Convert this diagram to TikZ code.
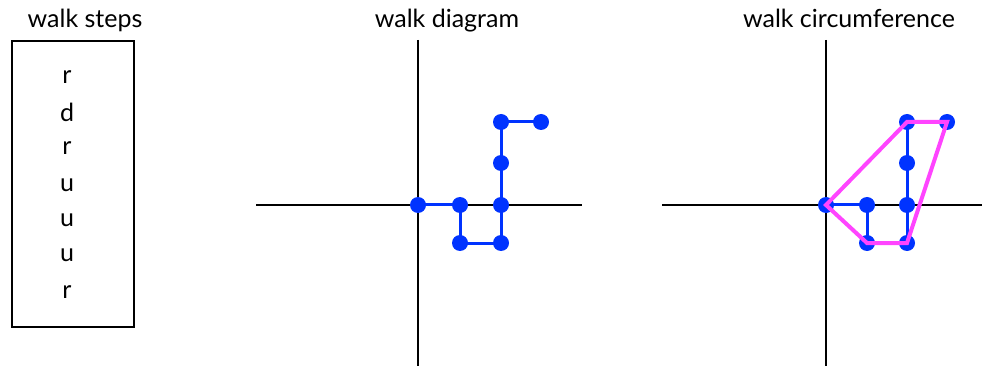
\documentclass[tikz,border=0pt]{standalone}
\usepackage{fontspec}
\setmainfont{Lato}
\definecolor{walkblue}{RGB}{0,51,255}
\definecolor{hullpink}{RGB}{255,68,255}
\begin{document}
\begin{tikzpicture}[x=1pt,y=-1pt,
  title/.style={font=\fontsize{25}{30}\selectfont, anchor=base},
  stepletter/.style={font=\fontsize{25}{30}\selectfont, anchor=center},
  axis/.style={line width=1.6pt, black},
  dot/.style={circle, fill=walkblue, inner sep=0pt, minimum size=16pt},
  walk/.style={line width=3pt, walkblue},
  hull/.style={line width=4pt, hullpink, line join=miter}]
\useasboundingbox (0,0) rectangle (982,366);
% titles
\node[title] (t1) at (85,28) {walk steps};
\node[title] (t2) at (447,28) {walk diagram};
\node[title] (t3) at (849,28) {walk circumference};
% steps box
\node[draw, line width=1.6pt, minimum width=122pt, minimum height=286pt, inner sep=0pt] (box) at (73,184) {};
\foreach \l/\y [count=\i] in {r/77,d/112,r/148,u/185,u/220,u/255,r/292}
  \node[stepletter] (s\i) at (67,\y) {\l};
% diagram 1 axes
\coordinate (v1t) at (418,40); \coordinate (v1b) at (418,366);
\coordinate (h1l) at (256,205); \coordinate (h1r) at (582,205);
\draw[axis] (v1t) -- (v1b);
\draw[axis] (h1l) -- (h1r);
% diagram 2 axes
\coordinate (v2t) at (826,40); \coordinate (v2b) at (826,366);
\coordinate (h2l) at (662,205); \coordinate (h2r) at (982,205);
\draw[axis] (v2t) -- (v2b);
\draw[axis] (h2l) -- (h2r);
% walk 1
\foreach \x/\y [count=\i from 0] in {418/205,460/205,460/243,501/243,501/205,501/163,501/122,541/122}
  \coordinate (a\i) at (\x,\y);
\draw[walk] (a0) -- (a1) -- (a2) -- (a3) -- (a4) -- (a5) -- (a6) -- (a7);
\foreach \i in {0,...,7} \node[dot] (da\i) at (a\i) {};
% walk 2
\foreach \x/\y [count=\i from 0] in {826/205,867/205,867/243,907/243,907/205,907/163,907/122,947/122}
  \coordinate (b\i) at (\x,\y);
\draw[walk] (b0) -- (b1) -- (b2) -- (b3) -- (b4) -- (b5) -- (b6) -- (b7);
\foreach \i in {0,...,7} \node[dot] (db\i) at (b\i) {};
\draw[hull] (b0) -- (b6) -- (b7) -- (b3) -- (b2) -- cycle;
\end{tikzpicture}
\end{document}
